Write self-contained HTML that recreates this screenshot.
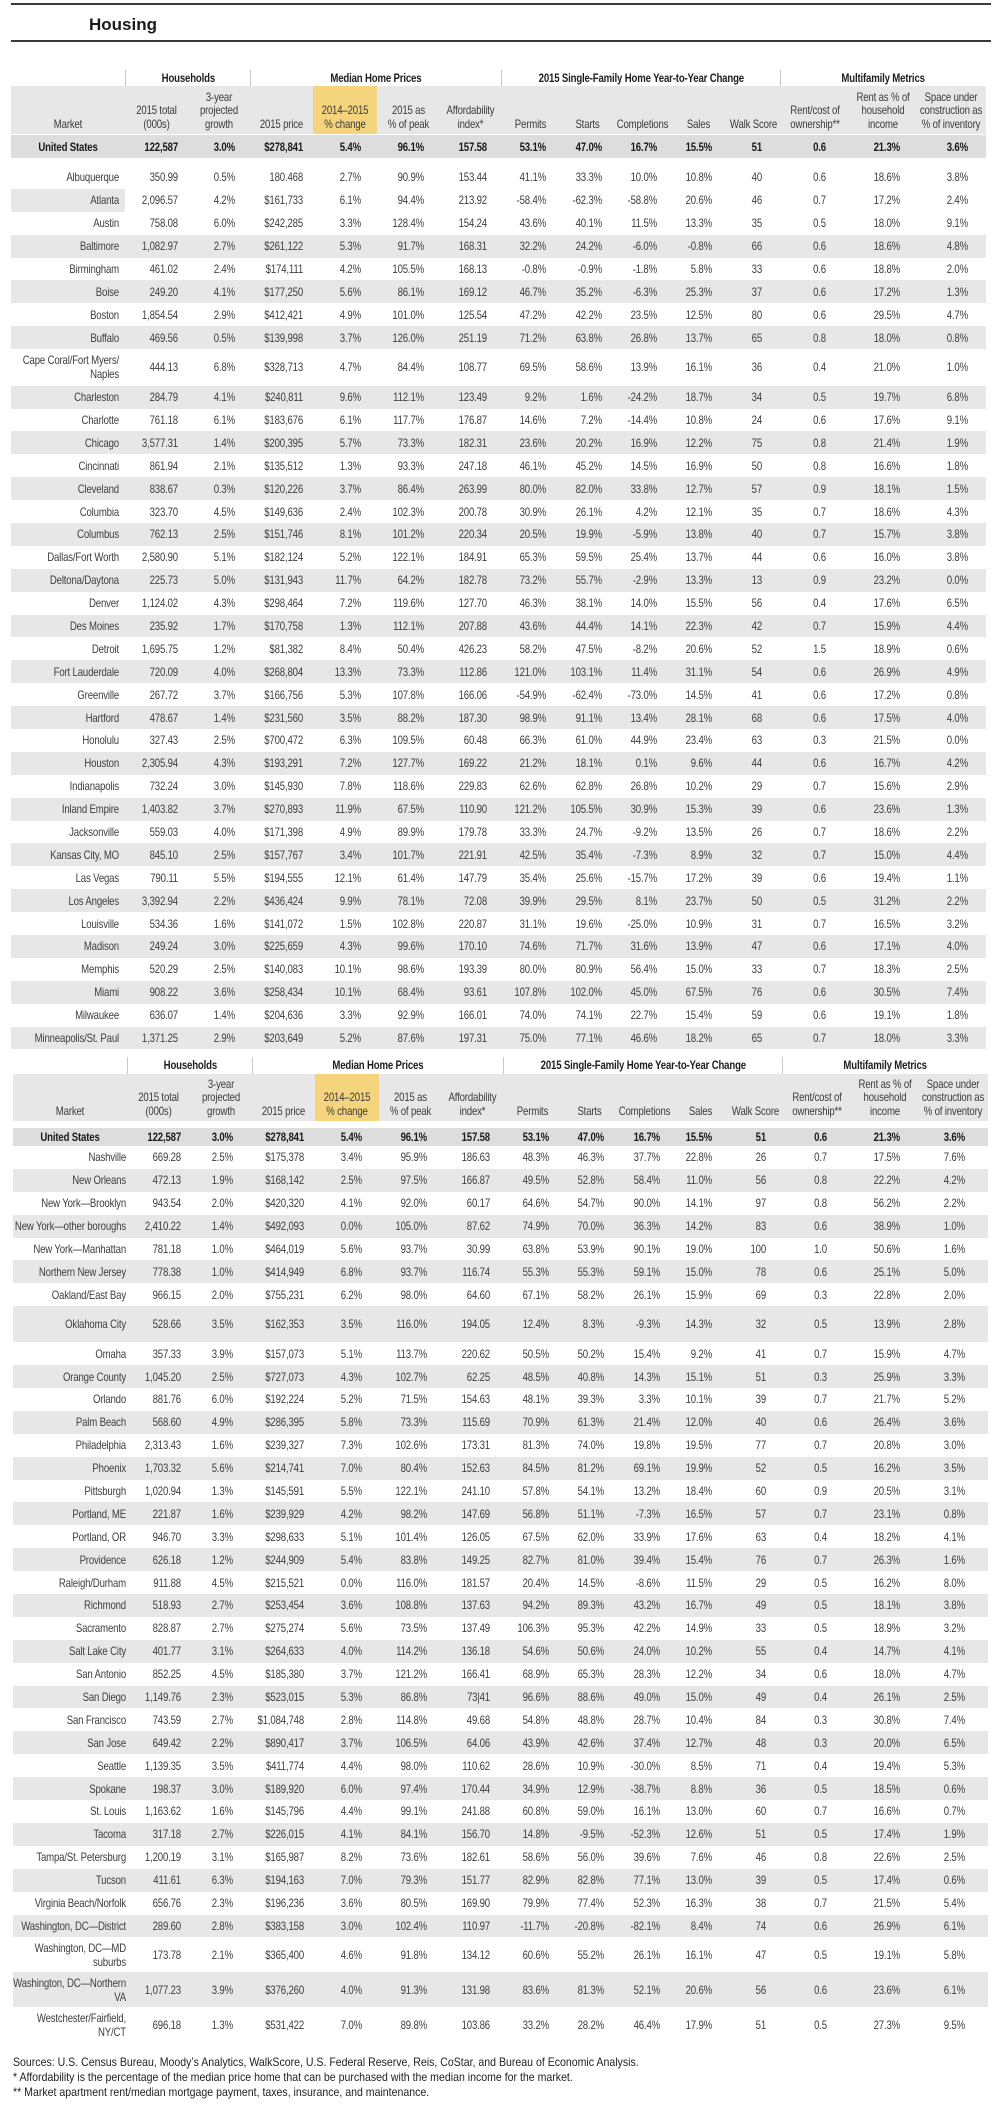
<!DOCTYPE html>
<html>
<head>
<meta charset="utf-8">
<style>
html,body{margin:0;padding:0;background:#fff;}
body{width:999px;height:2105px;position:relative;overflow:hidden;font-family:"Liberation Sans",sans-serif;}
.line{position:absolute;left:11px;width:980px;height:2px;background:#3a3a3a;}
.title{position:absolute;left:89px;top:16px;font-family:"Liberation Sans",sans-serif;font-weight:bold;font-size:17px;line-height:17px;color:#1a1a1a;}
.gh{position:absolute;height:16px;line-height:16px;border-left:1px solid #c8c8c8;box-sizing:border-box;text-align:center;font-weight:bold;font-size:12px;letter-spacing:-0.2px;color:#1e1e1e;white-space:nowrap;}
.gh span{display:inline-block;transform:scaleX(.8);transform-origin:50% 50%;}
.tbl{position:absolute;width:975px;font-size:12px;letter-spacing:-0.2px;color:#3d3d3d;}
.hdr{display:flex;height:48px;background:linear-gradient(to right,#e7e7e7 302px,#f5d47e 302px,#f5d47e 366px,#e7e7e7 366px);}
.hdr>div{flex:none;display:flex;align-items:flex-end;justify-content:center;text-align:center;box-sizing:border-box;padding-bottom:3px;line-height:13.5px;white-space:nowrap;color:#3a3a3a;transform:scaleX(.8);transform-origin:50% 50%;}
.row{display:flex;height:22.9px;}
.row>div{flex:none;display:flex;align-items:center;justify-content:flex-end;text-align:right;box-sizing:border-box;line-height:14px;white-space:nowrap;transform:scaleX(.8);}
.row.g{background:#e7e7e7;}
.row.a{background:linear-gradient(to right,#e7e7e7 114px,transparent 114px);}
.row.us{background:#dddddd;font-weight:bold;color:#1a1a1a;}
.row.us>div:first-child{justify-content:center;padding-right:0 !important;transform-origin:50% 50% !important;}
.row.tall{height:36.5px;}
.row.t36{height:36px;}
.row.t35{height:35px;}
.row>div:nth-child(1),.hdr>div:nth-child(1){width:114px}
.row>div:nth-child(2),.hdr>div:nth-child(2){width:63px}
.row>div:nth-child(3),.hdr>div:nth-child(3){width:62px}
.row>div:nth-child(4),.hdr>div:nth-child(4){width:63px}
.row>div:nth-child(5),.hdr>div:nth-child(5){width:64px}
.row>div:nth-child(6),.hdr>div:nth-child(6){width:63px}
.row>div:nth-child(7),.hdr>div:nth-child(7){width:61px}
.row>div:nth-child(8),.hdr>div:nth-child(8){width:59px}
.row>div:nth-child(9),.hdr>div:nth-child(9){width:55px}
.row>div:nth-child(10),.hdr>div:nth-child(10){width:55px}
.row>div:nth-child(11),.hdr>div:nth-child(11){width:57px}
.row>div:nth-child(12),.hdr>div:nth-child(12){width:53px}
.row>div:nth-child(13),.hdr>div:nth-child(13){width:70px}
.row>div:nth-child(14),.hdr>div:nth-child(14){width:66px}
.row>div:nth-child(15),.hdr>div:nth-child(15){width:70px}
#t1 .row>div:nth-child(1){padding-right:6px;transform-origin:calc(100% - 6px) 50%}
#t1 .row>div:nth-child(2){padding-right:10px;transform-origin:calc(100% - 10px) 50%}
#t1 .row>div:nth-child(3){padding-right:15px;transform-origin:calc(100% - 15px) 50%}
#t1 .row>div:nth-child(4){padding-right:10px;transform-origin:calc(100% - 10px) 50%}
#t1 .row>div:nth-child(5){padding-right:16px;transform-origin:calc(100% - 16px) 50%}
#t1 .row>div:nth-child(6){padding-right:16px;transform-origin:calc(100% - 16px) 50%}
#t1 .row>div:nth-child(7){padding-right:14px;transform-origin:calc(100% - 14px) 50%}
#t1 .row>div:nth-child(8){padding-right:14px;transform-origin:calc(100% - 14px) 50%}
#t1 .row>div:nth-child(9){padding-right:13px;transform-origin:calc(100% - 13px) 50%}
#t1 .row>div:nth-child(10){padding-right:13px;transform-origin:calc(100% - 13px) 50%}
#t1 .row>div:nth-child(11){padding-right:15px;transform-origin:calc(100% - 15px) 50%}
#t1 .row>div:nth-child(12){padding-right:18px;transform-origin:calc(100% - 18px) 50%}
#t1 .row>div:nth-child(13){padding-right:24px;transform-origin:calc(100% - 24px) 50%}
#t1 .row>div:nth-child(14){padding-right:16px;transform-origin:calc(100% - 16px) 50%}
#t1 .row>div:nth-child(15){padding-right:18px;transform-origin:calc(100% - 18px) 50%}
#t2 .row>div:nth-child(1){padding-right:1px;transform-origin:calc(100% - 1px) 50%}
#t2 .row>div:nth-child(2){padding-right:9px;transform-origin:calc(100% - 9px) 50%}
#t2 .row>div:nth-child(3){padding-right:19px;transform-origin:calc(100% - 19px) 50%}
#t2 .row>div:nth-child(4){padding-right:11px;transform-origin:calc(100% - 11px) 50%}
#t2 .row>div:nth-child(5){padding-right:17px;transform-origin:calc(100% - 17px) 50%}
#t2 .row>div:nth-child(6){padding-right:15px;transform-origin:calc(100% - 15px) 50%}
#t2 .row>div:nth-child(7){padding-right:13px;transform-origin:calc(100% - 13px) 50%}
#t2 .row>div:nth-child(8){padding-right:13px;transform-origin:calc(100% - 13px) 50%}
#t2 .row>div:nth-child(9){padding-right:13px;transform-origin:calc(100% - 13px) 50%}
#t2 .row>div:nth-child(10){padding-right:12px;transform-origin:calc(100% - 12px) 50%}
#t2 .row>div:nth-child(11){padding-right:17px;transform-origin:calc(100% - 17px) 50%}
#t2 .row>div:nth-child(12){padding-right:16px;transform-origin:calc(100% - 16px) 50%}
#t2 .row>div:nth-child(13){padding-right:25px;transform-origin:calc(100% - 25px) 50%}
#t2 .row>div:nth-child(14){padding-right:18px;transform-origin:calc(100% - 18px) 50%}
#t2 .row>div:nth-child(15){padding-right:23px;transform-origin:calc(100% - 23px) 50%}
.foot{position:absolute;left:13px;top:2055px;font-family:"Liberation Sans",sans-serif;font-size:12px;line-height:15px;color:#222;white-space:nowrap;transform:scaleX(0.88);transform-origin:0 0;}
</style>
</head>
<body>
<div class="line" style="top:3px"></div>
<div class="title">Housing</div>
<div class="line" style="top:40px"></div>

<div class="gh" style="left:125px;top:70px;width:125px"><span>Households</span></div>
<div class="gh" style="left:250px;top:70px;width:251px"><span>Median Home Prices</span></div>
<div class="gh" style="left:501px;top:70px;width:279px"><span>2015 Single-Family Home Year-to-Year Change</span></div>
<div class="gh" style="left:780px;top:70px;width:206px"><span>Multifamily Metrics</span></div>

<div class="tbl" id="t1" style="left:11px;top:86px">
<div class="hdr"><div>Market</div><div>2015 total<br>(000s)</div><div>3-year<br>projected<br>growth</div><div>2015 price</div><div>2014–2015<br>% change</div><div>2015 as<br>% of peak</div><div>Affordability<br>index*</div><div>Permits</div><div>Starts</div><div>Completions</div><div>Sales</div><div>Walk Score</div><div>Rent/cost of<br>ownership**</div><div>Rent as % of<br>household<br>income</div><div>Space under<br>construction as<br>% of inventory</div></div>
<div style="height:1px"></div>
<div class="row us" style="height:23px"><div>United States</div><div>122,587</div><div>3.0%</div><div>$278,841</div><div>5.4%</div><div>96.1%</div><div>157.58</div><div>53.1%</div><div>47.0%</div><div>16.7%</div><div>15.5%</div><div>51</div><div>0.6</div><div>21.3%</div><div>3.6%</div></div>
<div style="height:8px"></div>
<div class="row"><div>Albuquerque</div><div>350.99</div><div>0.5%</div><div>180.468</div><div>2.7%</div><div>90.9%</div><div>153.44</div><div>41.1%</div><div>33.3%</div><div>10.0%</div><div>10.8%</div><div>40</div><div>0.6</div><div>18.6%</div><div>3.8%</div></div>
<div class="row a"><div>Atlanta</div><div>2,096.57</div><div>4.2%</div><div>$161,733</div><div>6.1%</div><div>94.4%</div><div>213.92</div><div>-58.4%</div><div>-62.3%</div><div>-58.8%</div><div>20.6%</div><div>46</div><div>0.7</div><div>17.2%</div><div>2.4%</div></div>
<div class="row"><div>Austin</div><div>758.08</div><div>6.0%</div><div>$242,285</div><div>3.3%</div><div>128.4%</div><div>154.24</div><div>43.6%</div><div>40.1%</div><div>11.5%</div><div>13.3%</div><div>35</div><div>0.5</div><div>18.0%</div><div>9.1%</div></div>
<div class="row g"><div>Baltimore</div><div>1,082.97</div><div>2.7%</div><div>$261,122</div><div>5.3%</div><div>91.7%</div><div>168.31</div><div>32.2%</div><div>24.2%</div><div>-6.0%</div><div>-0.8%</div><div>66</div><div>0.6</div><div>18.6%</div><div>4.8%</div></div>
<div class="row"><div>Birmingham</div><div>461.02</div><div>2.4%</div><div>$174,111</div><div>4.2%</div><div>105.5%</div><div>168.13</div><div>-0.8%</div><div>-0.9%</div><div>-1.8%</div><div>5.8%</div><div>33</div><div>0.6</div><div>18.8%</div><div>2.0%</div></div>
<div class="row g"><div>Boise</div><div>249.20</div><div>4.1%</div><div>$177,250</div><div>5.6%</div><div>86.1%</div><div>169.12</div><div>46.7%</div><div>35.2%</div><div>-6.3%</div><div>25.3%</div><div>37</div><div>0.6</div><div>17.2%</div><div>1.3%</div></div>
<div class="row"><div>Boston</div><div>1,854.54</div><div>2.9%</div><div>$412,421</div><div>4.9%</div><div>101.0%</div><div>125.54</div><div>47.2%</div><div>42.2%</div><div>23.5%</div><div>12.5%</div><div>80</div><div>0.6</div><div>29.5%</div><div>4.7%</div></div>
<div class="row g"><div>Buffalo</div><div>469.56</div><div>0.5%</div><div>$139,998</div><div>3.7%</div><div>126.0%</div><div>251.19</div><div>71.2%</div><div>63.8%</div><div>26.8%</div><div>13.7%</div><div>65</div><div>0.8</div><div>18.0%</div><div>0.8%</div></div>
<div class="row tall"><div><span>Cape Coral/Fort Myers/<br>Naples</span></div><div>444.13</div><div>6.8%</div><div>$328,713</div><div>4.7%</div><div>84.4%</div><div>108.77</div><div>69.5%</div><div>58.6%</div><div>13.9%</div><div>16.1%</div><div>36</div><div>0.4</div><div>21.0%</div><div>1.0%</div></div>
<div class="row g"><div>Charleston</div><div>284.79</div><div>4.1%</div><div>$240,811</div><div>9.6%</div><div>112.1%</div><div>123.49</div><div>9.2%</div><div>1.6%</div><div>-24.2%</div><div>18.7%</div><div>34</div><div>0.5</div><div>19.7%</div><div>6.8%</div></div>
<div class="row"><div>Charlotte</div><div>761.18</div><div>6.1%</div><div>$183,676</div><div>6.1%</div><div>117.7%</div><div>176.87</div><div>14.6%</div><div>7.2%</div><div>-14.4%</div><div>10.8%</div><div>24</div><div>0.6</div><div>17.6%</div><div>9.1%</div></div>
<div class="row g"><div>Chicago</div><div>3,577.31</div><div>1.4%</div><div>$200,395</div><div>5.7%</div><div>73.3%</div><div>182.31</div><div>23.6%</div><div>20.2%</div><div>16.9%</div><div>12.2%</div><div>75</div><div>0.8</div><div>21.4%</div><div>1.9%</div></div>
<div class="row"><div>Cincinnati</div><div>861.94</div><div>2.1%</div><div>$135,512</div><div>1.3%</div><div>93.3%</div><div>247.18</div><div>46.1%</div><div>45.2%</div><div>14.5%</div><div>16.9%</div><div>50</div><div>0.8</div><div>16.6%</div><div>1.8%</div></div>
<div class="row g"><div>Cleveland</div><div>838.67</div><div>0.3%</div><div>$120,226</div><div>3.7%</div><div>86.4%</div><div>263.99</div><div>80.0%</div><div>82.0%</div><div>33.8%</div><div>12.7%</div><div>57</div><div>0.9</div><div>18.1%</div><div>1.5%</div></div>
<div class="row"><div>Columbia</div><div>323.70</div><div>4.5%</div><div>$149,636</div><div>2.4%</div><div>102.3%</div><div>200.78</div><div>30.9%</div><div>26.1%</div><div>4.2%</div><div>12.1%</div><div>35</div><div>0.7</div><div>18.6%</div><div>4.3%</div></div>
<div class="row g"><div>Columbus</div><div>762.13</div><div>2.5%</div><div>$151,746</div><div>8.1%</div><div>101.2%</div><div>220.34</div><div>20.5%</div><div>19.9%</div><div>-5.9%</div><div>13.8%</div><div>40</div><div>0.7</div><div>15.7%</div><div>3.8%</div></div>
<div class="row"><div>Dallas/Fort Worth</div><div>2,580.90</div><div>5.1%</div><div>$182,124</div><div>5.2%</div><div>122.1%</div><div>184.91</div><div>65.3%</div><div>59.5%</div><div>25.4%</div><div>13.7%</div><div>44</div><div>0.6</div><div>16.0%</div><div>3.8%</div></div>
<div class="row g"><div>Deltona/Daytona</div><div>225.73</div><div>5.0%</div><div>$131,943</div><div>11.7%</div><div>64.2%</div><div>182.78</div><div>73.2%</div><div>55.7%</div><div>-2.9%</div><div>13.3%</div><div>13</div><div>0.9</div><div>23.2%</div><div>0.0%</div></div>
<div class="row"><div>Denver</div><div>1,124.02</div><div>4.3%</div><div>$298,464</div><div>7.2%</div><div>119.6%</div><div>127.70</div><div>46.3%</div><div>38.1%</div><div>14.0%</div><div>15.5%</div><div>56</div><div>0.4</div><div>17.6%</div><div>6.5%</div></div>
<div class="row g"><div>Des Moines</div><div>235.92</div><div>1.7%</div><div>$170,758</div><div>1.3%</div><div>112.1%</div><div>207.88</div><div>43.6%</div><div>44.4%</div><div>14.1%</div><div>22.3%</div><div>42</div><div>0.7</div><div>15.9%</div><div>4.4%</div></div>
<div class="row"><div>Detroit</div><div>1,695.75</div><div>1.2%</div><div>$81,382</div><div>8.4%</div><div>50.4%</div><div>426.23</div><div>58.2%</div><div>47.5%</div><div>-8.2%</div><div>20.6%</div><div>52</div><div>1.5</div><div>18.9%</div><div>0.6%</div></div>
<div class="row g"><div>Fort Lauderdale</div><div>720.09</div><div>4.0%</div><div>$268,804</div><div>13.3%</div><div>73.3%</div><div>112.86</div><div>121.0%</div><div>103.1%</div><div>11.4%</div><div>31.1%</div><div>54</div><div>0.6</div><div>26.9%</div><div>4.9%</div></div>
<div class="row"><div>Greenville</div><div>267.72</div><div>3.7%</div><div>$166,756</div><div>5.3%</div><div>107.8%</div><div>166.06</div><div>-54.9%</div><div>-62.4%</div><div>-73.0%</div><div>14.5%</div><div>41</div><div>0.6</div><div>17.2%</div><div>0.8%</div></div>
<div class="row g"><div>Hartford</div><div>478.67</div><div>1.4%</div><div>$231,560</div><div>3.5%</div><div>88.2%</div><div>187.30</div><div>98.9%</div><div>91.1%</div><div>13.4%</div><div>28.1%</div><div>68</div><div>0.6</div><div>17.5%</div><div>4.0%</div></div>
<div class="row"><div>Honolulu</div><div>327.43</div><div>2.5%</div><div>$700,472</div><div>6.3%</div><div>109.5%</div><div>60.48</div><div>66.3%</div><div>61.0%</div><div>44.9%</div><div>23.4%</div><div>63</div><div>0.3</div><div>21.5%</div><div>0.0%</div></div>
<div class="row g"><div>Houston</div><div>2,305.94</div><div>4.3%</div><div>$193,291</div><div>7.2%</div><div>127.7%</div><div>169.22</div><div>21.2%</div><div>18.1%</div><div>0.1%</div><div>9.6%</div><div>44</div><div>0.6</div><div>16.7%</div><div>4.2%</div></div>
<div class="row"><div>Indianapolis</div><div>732.24</div><div>3.0%</div><div>$145,930</div><div>7.8%</div><div>118.6%</div><div>229.83</div><div>62.6%</div><div>62.8%</div><div>26.8%</div><div>10.2%</div><div>29</div><div>0.7</div><div>15.6%</div><div>2.9%</div></div>
<div class="row g"><div>Inland Empire</div><div>1,403.82</div><div>3.7%</div><div>$270,893</div><div>11.9%</div><div>67.5%</div><div>110.90</div><div>121.2%</div><div>105.5%</div><div>30.9%</div><div>15.3%</div><div>39</div><div>0.6</div><div>23.6%</div><div>1.3%</div></div>
<div class="row"><div>Jacksonville</div><div>559.03</div><div>4.0%</div><div>$171,398</div><div>4.9%</div><div>89.9%</div><div>179.78</div><div>33.3%</div><div>24.7%</div><div>-9.2%</div><div>13.5%</div><div>26</div><div>0.7</div><div>18.6%</div><div>2.2%</div></div>
<div class="row g"><div>Kansas City, MO</div><div>845.10</div><div>2.5%</div><div>$157,767</div><div>3.4%</div><div>101.7%</div><div>221.91</div><div>42.5%</div><div>35.4%</div><div>-7.3%</div><div>8.9%</div><div>32</div><div>0.7</div><div>15.0%</div><div>4.4%</div></div>
<div class="row"><div>Las Vegas</div><div>790.11</div><div>5.5%</div><div>$194,555</div><div>12.1%</div><div>61.4%</div><div>147.79</div><div>35.4%</div><div>25.6%</div><div>-15.7%</div><div>17.2%</div><div>39</div><div>0.6</div><div>19.4%</div><div>1.1%</div></div>
<div class="row g"><div>Los Angeles</div><div>3,392.94</div><div>2.2%</div><div>$436,424</div><div>9.9%</div><div>78.1%</div><div>72.08</div><div>39.9%</div><div>29.5%</div><div>8.1%</div><div>23.7%</div><div>50</div><div>0.5</div><div>31.2%</div><div>2.2%</div></div>
<div class="row"><div>Louisville</div><div>534.36</div><div>1.6%</div><div>$141,072</div><div>1.5%</div><div>102.8%</div><div>220.87</div><div>31.1%</div><div>19.6%</div><div>-25.0%</div><div>10.9%</div><div>31</div><div>0.7</div><div>16.5%</div><div>3.2%</div></div>
<div class="row g"><div>Madison</div><div>249.24</div><div>3.0%</div><div>$225,659</div><div>4.3%</div><div>99.6%</div><div>170.10</div><div>74.6%</div><div>71.7%</div><div>31.6%</div><div>13.9%</div><div>47</div><div>0.6</div><div>17.1%</div><div>4.0%</div></div>
<div class="row"><div>Memphis</div><div>520.29</div><div>2.5%</div><div>$140,083</div><div>10.1%</div><div>98.6%</div><div>193.39</div><div>80.0%</div><div>80.9%</div><div>56.4%</div><div>15.0%</div><div>33</div><div>0.7</div><div>18.3%</div><div>2.5%</div></div>
<div class="row g"><div>Miami</div><div>908.22</div><div>3.6%</div><div>$258,434</div><div>10.1%</div><div>68.4%</div><div>93.61</div><div>107.8%</div><div>102.0%</div><div>45.0%</div><div>67.5%</div><div>76</div><div>0.6</div><div>30.5%</div><div>7.4%</div></div>
<div class="row"><div>Milwaukee</div><div>636.07</div><div>1.4%</div><div>$204,636</div><div>3.3%</div><div>92.9%</div><div>166.01</div><div>74.0%</div><div>74.1%</div><div>22.7%</div><div>15.4%</div><div>59</div><div>0.6</div><div>19.1%</div><div>1.8%</div></div>
<div class="row g"><div>Minneapolis/St. Paul</div><div>1,371.25</div><div>2.9%</div><div>$203,649</div><div>5.2%</div><div>87.6%</div><div>197.31</div><div>75.0%</div><div>77.1%</div><div>46.6%</div><div>18.2%</div><div>65</div><div>0.7</div><div>18.0%</div><div>3.3%</div></div>
</div>

<div class="gh" style="left:127px;top:1057px;width:125px;height:17px;line-height:17px"><span>Households</span></div>
<div class="gh" style="left:252px;top:1057px;width:251px;height:17px;line-height:17px"><span>Median Home Prices</span></div>
<div class="gh" style="left:503px;top:1057px;width:279px;height:17px;line-height:17px"><span>2015 Single-Family Home Year-to-Year Change</span></div>
<div class="gh" style="left:782px;top:1057px;width:206px;height:17px;line-height:17px"><span>Multifamily Metrics</span></div>

<div class="tbl" id="t2" style="left:13px;top:1074px">
<div class="hdr" style="height:47px"><div>Market</div><div>2015 total<br>(000s)</div><div>3-year<br>projected<br>growth</div><div>2015 price</div><div>2014–2015<br>% change</div><div>2015 as<br>% of peak</div><div>Affordability<br>index*</div><div>Permits</div><div>Starts</div><div>Completions</div><div>Sales</div><div>Walk Score</div><div>Rent/cost of<br>ownership**</div><div>Rent as % of<br>household<br>income</div><div>Space under<br>construction as<br>% of inventory</div></div>
<div style="height:7px"></div>
<div class="row us" style="height:18px"><div>United States</div><div>122,587</div><div>3.0%</div><div>$278,841</div><div>5.4%</div><div>96.1%</div><div>157.58</div><div>53.1%</div><div>47.0%</div><div>16.7%</div><div>15.5%</div><div>51</div><div>0.6</div><div>21.3%</div><div>3.6%</div></div>
<div class="row"><div>Nashville</div><div>669.28</div><div>2.5%</div><div>$175,378</div><div>3.4%</div><div>95.9%</div><div>186.63</div><div>48.3%</div><div>46.3%</div><div>37.7%</div><div>22.8%</div><div>26</div><div>0.7</div><div>17.5%</div><div>7.6%</div></div>
<div class="row g"><div>New Orleans</div><div>472.13</div><div>1.9%</div><div>$168,142</div><div>2.5%</div><div>97.5%</div><div>166.87</div><div>49.5%</div><div>52.8%</div><div>58.4%</div><div>11.0%</div><div>56</div><div>0.8</div><div>22.2%</div><div>4.2%</div></div>
<div class="row"><div>New York—Brooklyn</div><div>943.54</div><div>2.0%</div><div>$420,320</div><div>4.1%</div><div>92.0%</div><div>60.17</div><div>64.6%</div><div>54.7%</div><div>90.0%</div><div>14.1%</div><div>97</div><div>0.8</div><div>56.2%</div><div>2.2%</div></div>
<div class="row g"><div>New York—other boroughs</div><div>2,410.22</div><div>1.4%</div><div>$492,093</div><div>0.0%</div><div>105.0%</div><div>87.62</div><div>74.9%</div><div>70.0%</div><div>36.3%</div><div>14.2%</div><div>83</div><div>0.6</div><div>38.9%</div><div>1.0%</div></div>
<div class="row"><div>New York—Manhattan</div><div>781.18</div><div>1.0%</div><div>$464,019</div><div>5.6%</div><div>93.7%</div><div>30.99</div><div>63.8%</div><div>53.9%</div><div>90.1%</div><div>19.0%</div><div>100</div><div>1.0</div><div>50.6%</div><div>1.6%</div></div>
<div class="row g"><div>Northern New Jersey</div><div>778.38</div><div>1.0%</div><div>$414,949</div><div>6.8%</div><div>93.7%</div><div>116.74</div><div>55.3%</div><div>55.3%</div><div>59.1%</div><div>15.0%</div><div>78</div><div>0.6</div><div>25.1%</div><div>5.0%</div></div>
<div class="row"><div>Oakland/East Bay</div><div>966.15</div><div>2.0%</div><div>$755,231</div><div>6.2%</div><div>98.0%</div><div>64.60</div><div>67.1%</div><div>58.2%</div><div>26.1%</div><div>15.9%</div><div>69</div><div>0.3</div><div>22.8%</div><div>2.0%</div></div>
<div class="row g t36"><div>Oklahoma City</div><div>528.66</div><div>3.5%</div><div>$162,353</div><div>3.5%</div><div>116.0%</div><div>194.05</div><div>12.4%</div><div>8.3%</div><div>-9.3%</div><div>14.3%</div><div>32</div><div>0.5</div><div>13.9%</div><div>2.8%</div></div>
<div class="row"><div>Omaha</div><div>357.33</div><div>3.9%</div><div>$157,073</div><div>5.1%</div><div>113.7%</div><div>220.62</div><div>50.5%</div><div>50.2%</div><div>15.4%</div><div>9.2%</div><div>41</div><div>0.7</div><div>15.9%</div><div>4.7%</div></div>
<div class="row g"><div>Orange County</div><div>1,045.20</div><div>2.5%</div><div>$727,073</div><div>4.3%</div><div>102.7%</div><div>62.25</div><div>48.5%</div><div>40.8%</div><div>14.3%</div><div>15.1%</div><div>51</div><div>0.3</div><div>25.9%</div><div>3.3%</div></div>
<div class="row"><div>Orlando</div><div>881.76</div><div>6.0%</div><div>$192,224</div><div>5.2%</div><div>71.5%</div><div>154.63</div><div>48.1%</div><div>39.3%</div><div>3.3%</div><div>10.1%</div><div>39</div><div>0.7</div><div>21.7%</div><div>5.2%</div></div>
<div class="row g"><div>Palm Beach</div><div>568.60</div><div>4.9%</div><div>$286,395</div><div>5.8%</div><div>73.3%</div><div>115.69</div><div>70.9%</div><div>61.3%</div><div>21.4%</div><div>12.0%</div><div>40</div><div>0.6</div><div>26.4%</div><div>3.6%</div></div>
<div class="row"><div>Philadelphia</div><div>2,313.43</div><div>1.6%</div><div>$239,327</div><div>7.3%</div><div>102.6%</div><div>173.31</div><div>81.3%</div><div>74.0%</div><div>19.8%</div><div>19.5%</div><div>77</div><div>0.7</div><div>20.8%</div><div>3.0%</div></div>
<div class="row g"><div>Phoenix</div><div>1,703.32</div><div>5.6%</div><div>$214,741</div><div>7.0%</div><div>80.4%</div><div>152.63</div><div>84.5%</div><div>81.2%</div><div>69.1%</div><div>19.9%</div><div>52</div><div>0.5</div><div>16.2%</div><div>3.5%</div></div>
<div class="row"><div>Pittsburgh</div><div>1,020.94</div><div>1.3%</div><div>$145,591</div><div>5.5%</div><div>122.1%</div><div>241.10</div><div>57.8%</div><div>54.1%</div><div>13.2%</div><div>18.4%</div><div>60</div><div>0.9</div><div>20.5%</div><div>3.1%</div></div>
<div class="row g"><div>Portland, ME</div><div>221.87</div><div>1.6%</div><div>$239,929</div><div>4.2%</div><div>98.2%</div><div>147.69</div><div>56.8%</div><div>51.1%</div><div>-7.3%</div><div>16.5%</div><div>57</div><div>0.7</div><div>23.1%</div><div>0.8%</div></div>
<div class="row"><div>Portland, OR</div><div>946.70</div><div>3.3%</div><div>$298,633</div><div>5.1%</div><div>101.4%</div><div>126.05</div><div>67.5%</div><div>62.0%</div><div>33.9%</div><div>17.6%</div><div>63</div><div>0.4</div><div>18.2%</div><div>4.1%</div></div>
<div class="row g"><div>Providence</div><div>626.18</div><div>1.2%</div><div>$244,909</div><div>5.4%</div><div>83.8%</div><div>149.25</div><div>82.7%</div><div>81.0%</div><div>39.4%</div><div>15.4%</div><div>76</div><div>0.7</div><div>26.3%</div><div>1.6%</div></div>
<div class="row"><div>Raleigh/Durham</div><div>911.88</div><div>4.5%</div><div>$215,521</div><div>0.0%</div><div>116.0%</div><div>181.57</div><div>20.4%</div><div>14.5%</div><div>-8.6%</div><div>11.5%</div><div>29</div><div>0.5</div><div>16.2%</div><div>8.0%</div></div>
<div class="row g"><div>Richmond</div><div>518.93</div><div>2.7%</div><div>$253,454</div><div>3.6%</div><div>108.8%</div><div>137.63</div><div>94.2%</div><div>89.3%</div><div>43.2%</div><div>16.7%</div><div>49</div><div>0.5</div><div>18.1%</div><div>3.8%</div></div>
<div class="row"><div>Sacramento</div><div>828.87</div><div>2.7%</div><div>$275,274</div><div>5.6%</div><div>73.5%</div><div>137.49</div><div>106.3%</div><div>95.3%</div><div>42.2%</div><div>14.9%</div><div>33</div><div>0.5</div><div>18.9%</div><div>3.2%</div></div>
<div class="row g"><div>Salt Lake City</div><div>401.77</div><div>3.1%</div><div>$264,633</div><div>4.0%</div><div>114.2%</div><div>136.18</div><div>54.6%</div><div>50.6%</div><div>24.0%</div><div>10.2%</div><div>55</div><div>0.4</div><div>14.7%</div><div>4.1%</div></div>
<div class="row"><div>San Antonio</div><div>852.25</div><div>4.5%</div><div>$185,380</div><div>3.7%</div><div>121.2%</div><div>166.41</div><div>68.9%</div><div>65.3%</div><div>28.3%</div><div>12.2%</div><div>34</div><div>0.6</div><div>18.0%</div><div>4.7%</div></div>
<div class="row g"><div>San Diego</div><div>1,149.76</div><div>2.3%</div><div>$523,015</div><div>5.3%</div><div>86.8%</div><div>73|41</div><div>96.6%</div><div>88.6%</div><div>49.0%</div><div>15.0%</div><div>49</div><div>0.4</div><div>26.1%</div><div>2.5%</div></div>
<div class="row"><div>San Francisco</div><div>743.59</div><div>2.7%</div><div>$1,084,748</div><div>2.8%</div><div>114.8%</div><div>49.68</div><div>54.8%</div><div>48.8%</div><div>28.7%</div><div>10.4%</div><div>84</div><div>0.3</div><div>30.8%</div><div>7.4%</div></div>
<div class="row g"><div>San Jose</div><div>649.42</div><div>2.2%</div><div>$890,417</div><div>3.7%</div><div>106.5%</div><div>64.06</div><div>43.9%</div><div>42.6%</div><div>37.4%</div><div>12.7%</div><div>48</div><div>0.3</div><div>20.0%</div><div>6.5%</div></div>
<div class="row"><div>Seattle</div><div>1,139.35</div><div>3.5%</div><div>$411,774</div><div>4.4%</div><div>98.0%</div><div>110.62</div><div>28.6%</div><div>10.9%</div><div>-30.0%</div><div>8.5%</div><div>71</div><div>0.4</div><div>19.4%</div><div>5.3%</div></div>
<div class="row g"><div>Spokane</div><div>198.37</div><div>3.0%</div><div>$189,920</div><div>6.0%</div><div>97.4%</div><div>170.44</div><div>34.9%</div><div>12.9%</div><div>-38.7%</div><div>8.8%</div><div>36</div><div>0.5</div><div>18.5%</div><div>0.6%</div></div>
<div class="row"><div>St. Louis</div><div>1,163.62</div><div>1.6%</div><div>$145,796</div><div>4.4%</div><div>99.1%</div><div>241.88</div><div>60.8%</div><div>59.0%</div><div>16.1%</div><div>13.0%</div><div>60</div><div>0.7</div><div>16.6%</div><div>0.7%</div></div>
<div class="row g"><div>Tacoma</div><div>317.18</div><div>2.7%</div><div>$226,015</div><div>4.1%</div><div>84.1%</div><div>156.70</div><div>14.8%</div><div>-9.5%</div><div>-52.3%</div><div>12.6%</div><div>51</div><div>0.5</div><div>17.4%</div><div>1.9%</div></div>
<div class="row"><div>Tampa/St. Petersburg</div><div>1,200.19</div><div>3.1%</div><div>$165,987</div><div>8.2%</div><div>73.6%</div><div>182.61</div><div>58.6%</div><div>56.0%</div><div>39.6%</div><div>7.6%</div><div>46</div><div>0.8</div><div>22.6%</div><div>2.5%</div></div>
<div class="row g"><div>Tucson</div><div>411.61</div><div>6.3%</div><div>$194,163</div><div>7.0%</div><div>79.3%</div><div>151.77</div><div>82.9%</div><div>82.8%</div><div>77.1%</div><div>13.0%</div><div>39</div><div>0.5</div><div>17.4%</div><div>0.6%</div></div>
<div class="row"><div>Virginia Beach/Norfolk</div><div>656.76</div><div>2.3%</div><div>$196,236</div><div>3.6%</div><div>80.5%</div><div>169.90</div><div>79.9%</div><div>77.4%</div><div>52.3%</div><div>16.3%</div><div>38</div><div>0.7</div><div>21.5%</div><div>5.4%</div></div>
<div class="row g"><div>Washington, DC—District</div><div>289.60</div><div>2.8%</div><div>$383,158</div><div>3.0%</div><div>102.4%</div><div>110.97</div><div>-11.7%</div><div>-20.8%</div><div>-82.1%</div><div>8.4%</div><div>74</div><div>0.6</div><div>26.9%</div><div>6.1%</div></div>
<div class="row t35"><div><span>Washington, DC—MD<br>suburbs</span></div><div>173.78</div><div>2.1%</div><div>$365,400</div><div>4.6%</div><div>91.8%</div><div>134.12</div><div>60.6%</div><div>55.2%</div><div>26.1%</div><div>16.1%</div><div>47</div><div>0.5</div><div>19.1%</div><div>5.8%</div></div>
<div class="row g t35"><div><span>Washington, DC—Northern<br>VA</span></div><div>1,077.23</div><div>3.9%</div><div>$376,260</div><div>4.0%</div><div>91.3%</div><div>131.98</div><div>83.6%</div><div>81.3%</div><div>52.1%</div><div>20.6%</div><div>56</div><div>0.6</div><div>23.6%</div><div>6.1%</div></div>
<div class="row t35"><div><span>Westchester/Fairfield,<br>NY/CT</span></div><div>696.18</div><div>1.3%</div><div>$531,422</div><div>7.0%</div><div>89.8%</div><div>103.86</div><div>33.2%</div><div>28.2%</div><div>46.4%</div><div>17.9%</div><div>51</div><div>0.5</div><div>27.3%</div><div>9.5%</div></div>
</div>

<div class="foot">Sources: U.S. Census Bureau, Moody’s Analytics, WalkScore, U.S. Federal Reserve, Reis, CoStar, and Bureau of Economic Analysis.<br>* Affordability is the percentage of the median price home that can be purchased with the median income for the market.<br>** Market apartment rent/median mortgage payment, taxes, insurance, and maintenance.</div>
</body>
</html>
